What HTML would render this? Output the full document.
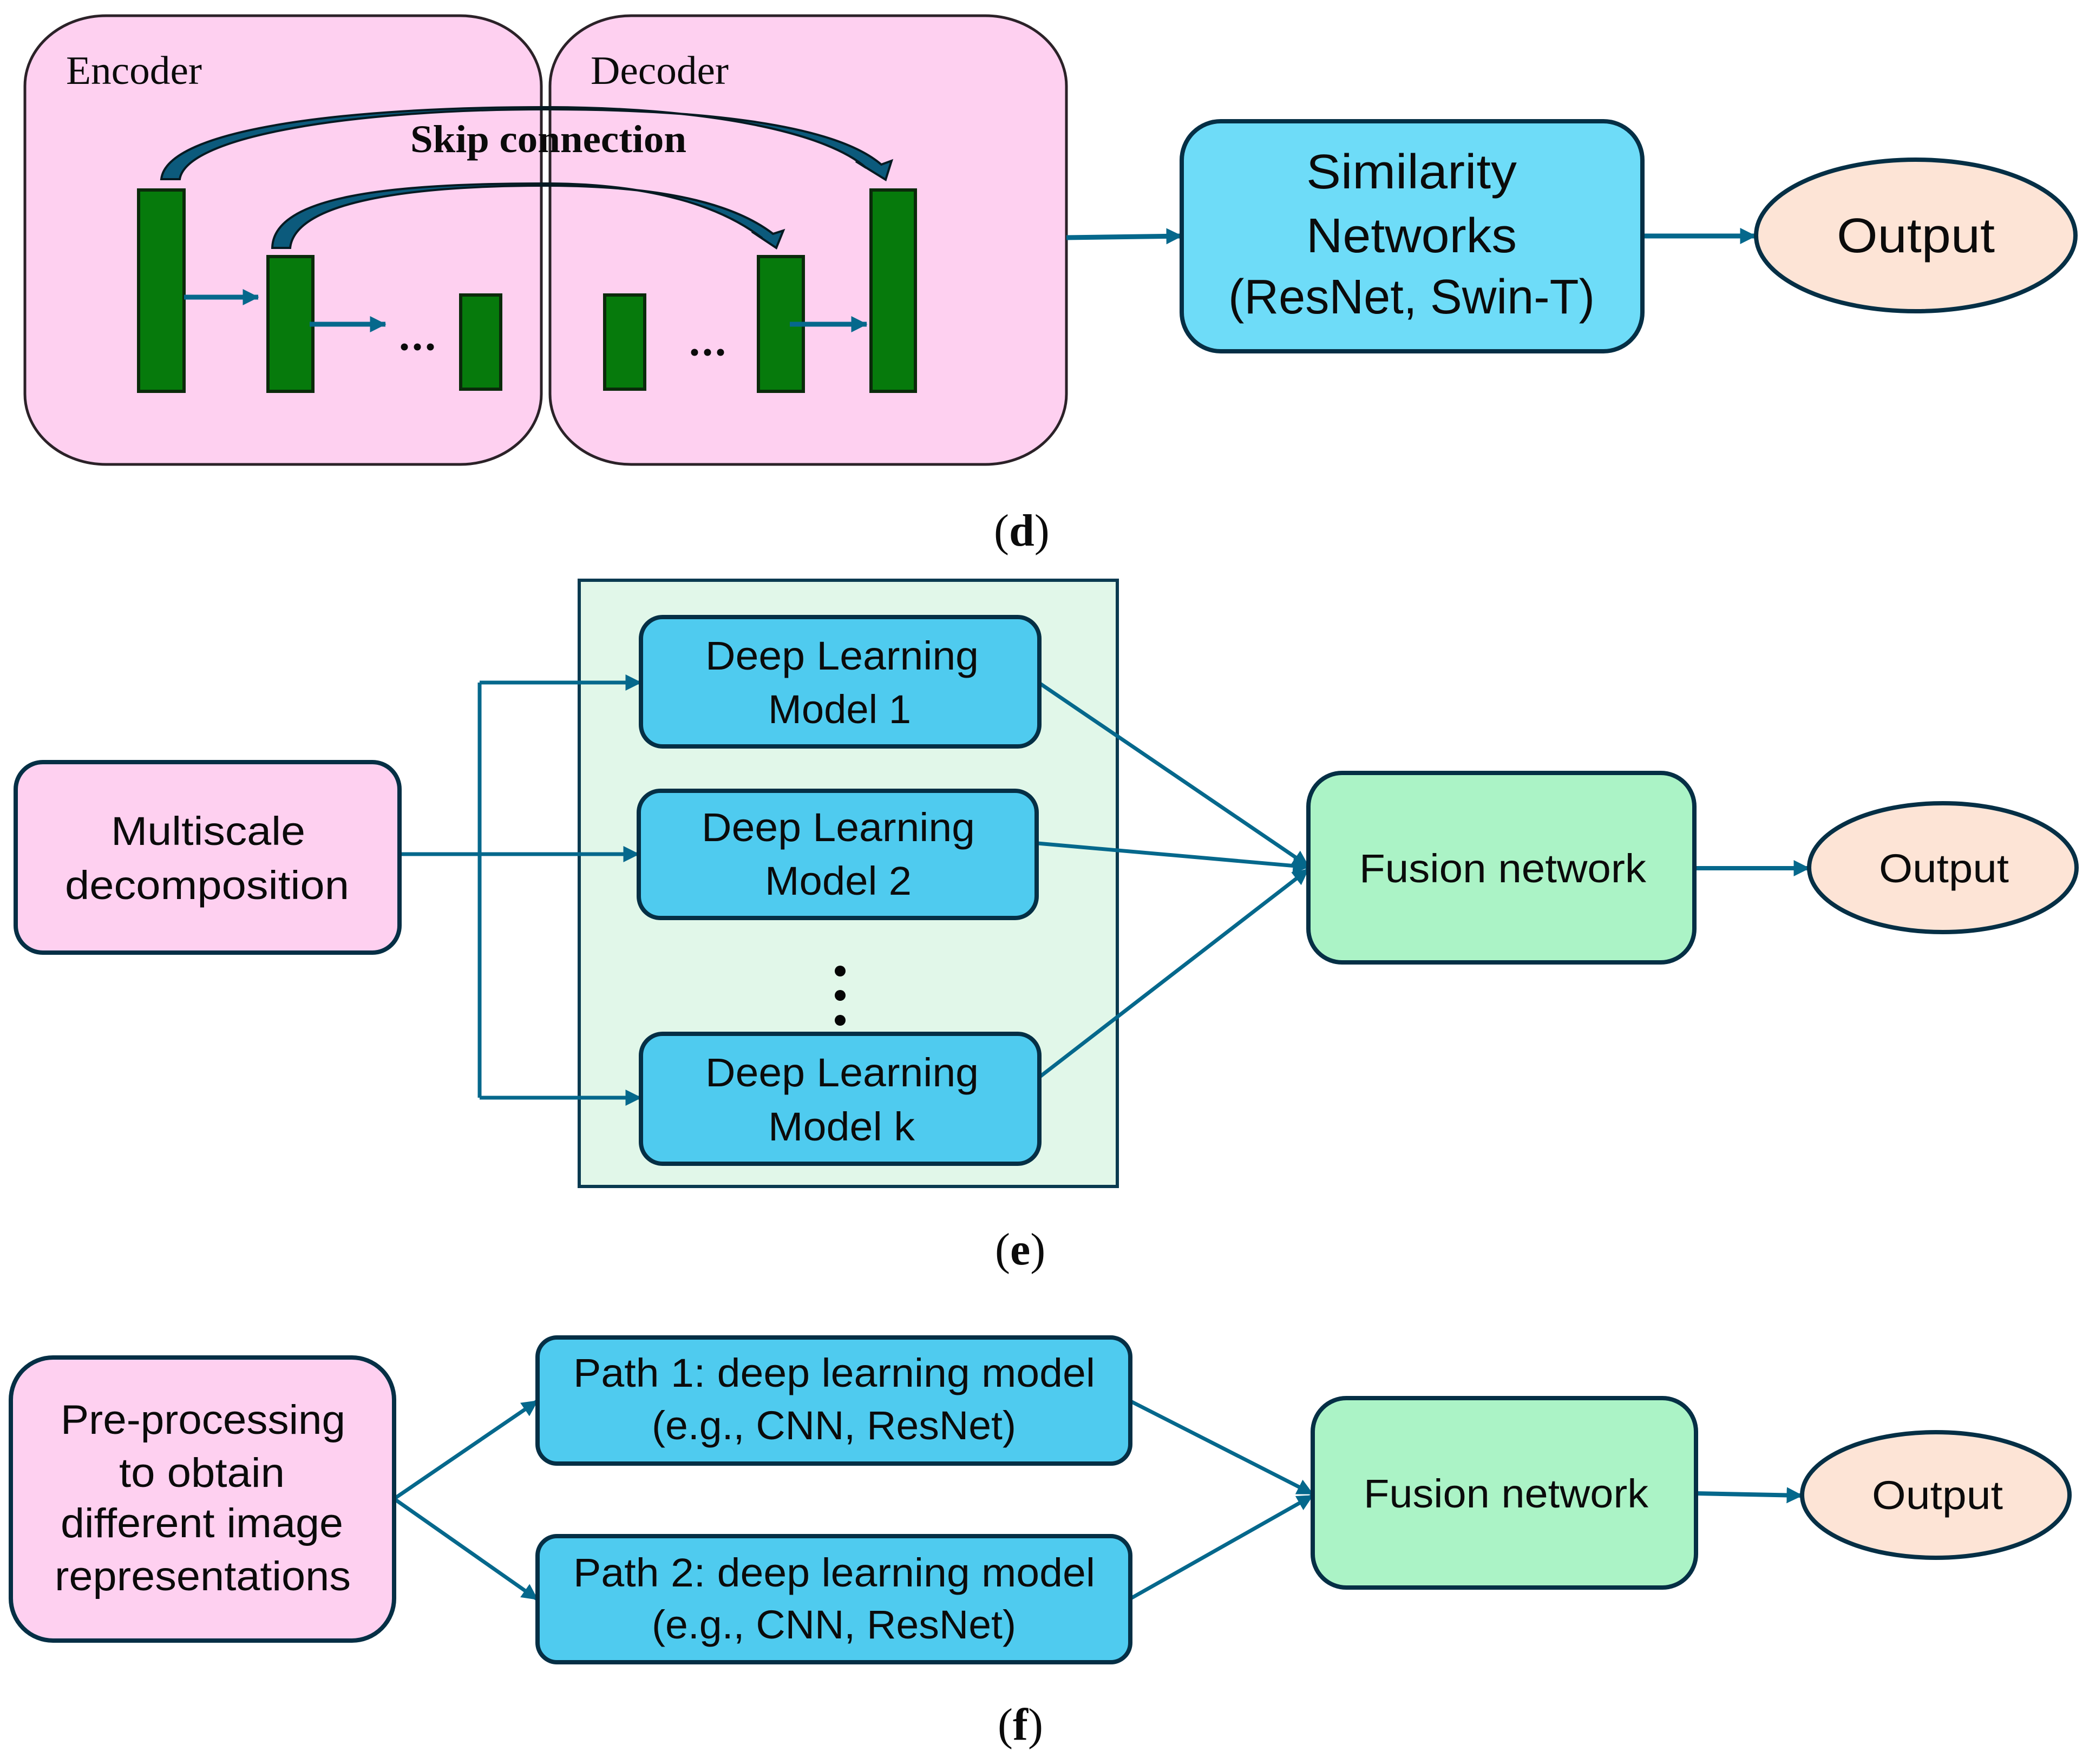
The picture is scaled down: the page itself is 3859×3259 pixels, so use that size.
<!DOCTYPE html>
<html lang="en">
<head>
<meta charset="utf-8">
<title>Diagram</title>
<style>
html,body{margin:0;padding:0;background:#fff;width:3859px;height:3259px;overflow:hidden}
svg{display:block}
text{fill:#0b0b0b}
.s{font-family:"Liberation Sans",sans-serif}
.r{font-family:"Liberation Serif",serif}
.ln{stroke:#05688c;fill:none}
.box{stroke:#052f45;stroke-width:8}
</style>
</head>
<body>
<svg width="3859" height="3259" viewBox="0 0 3859 3259" xmlns="http://www.w3.org/2000/svg">
<rect width="3859" height="3259" fill="#fff"/>
<defs>
<marker id="a" viewBox="0 0 10 10" refX="9.5" refY="5" markerUnits="userSpaceOnUse" markerWidth="30" markerHeight="30" orient="auto"><path d="M0 0L10 5L0 10z" fill="#05688c"/></marker>
</defs>

<!-- (d) -->
<rect x="46" y="29" width="954" height="829" rx="150" ry="130" fill="#fed0f0" stroke="#2b2228" stroke-width="5"/>
<rect x="1016" y="29" width="954" height="829" rx="150" ry="130" fill="#fed0f0" stroke="#2b2228" stroke-width="5"/>
<text class="r" x="122" y="155" font-size="74" textLength="251" lengthAdjust="spacingAndGlyphs">Encoder</text>
<text class="r" x="1091" y="155" font-size="74" textLength="255" lengthAdjust="spacingAndGlyphs">Decoder</text>

<g fill="#067a0c" stroke="#0b2a0b" stroke-width="6">
<rect x="256" y="351" width="84" height="372"/>
<rect x="495" y="474" width="83" height="249"/>
<rect x="851" y="545" width="74" height="174"/>
<rect x="1117" y="545" width="74" height="174"/>
<rect x="1401" y="474" width="83" height="249"/>
<rect x="1609" y="351" width="82" height="372"/>
</g>

<path d="M298 331C308 238 640 198 1006 198C1290 198 1520 240 1600 310L1581 298L1636 332L1647 297L1628 304C1540 228 1290 202 1006 202C660 202 345 250 332 331Z" fill="#0c5a7c" stroke="#061a22" stroke-width="4"/>
<path d="M503 458C505 362 720 339 1006 339C1180 339 1320 372 1408 440L1389 428L1434 458L1447 426L1428 432C1340 364 1180 343 1006 343C760 343 545 372 536 458Z" fill="#0c5a7c" stroke="#061a22" stroke-width="4"/>

<text class="r" x="758" y="281" font-size="72" font-weight="700" textLength="510" lengthAdjust="spacingAndGlyphs">Skip connection</text>

<g class="ln" stroke-width="9">
<line x1="340" y1="549" x2="477" y2="549" marker-end="url(#a)"/>
<line x1="572" y1="599" x2="712" y2="599" marker-end="url(#a)"/>
<line x1="1459" y1="599" x2="1601" y2="599" marker-end="url(#a)"/>
<line x1="1970" y1="439" x2="2183" y2="436" marker-end="url(#a)"/>
<line x1="3034" y1="436" x2="3243" y2="436" marker-end="url(#a)"/>
</g>
<g fill="#0b0b0b">
<circle cx="747" cy="641" r="6.5"/><circle cx="771" cy="641" r="6.5"/><circle cx="795" cy="641" r="6.5"/>
<circle cx="1283" cy="651" r="6.5"/><circle cx="1307" cy="651" r="6.5"/><circle cx="1331" cy="651" r="6.5"/>
</g>

<rect class="box" x="2183" y="224" width="851" height="425" rx="72" fill="#6edcf8"/>
<text class="s" x="2413" y="348" font-size="90" textLength="389" lengthAdjust="spacingAndGlyphs">Similarity</text>
<text class="s" x="2413" y="466" font-size="90" textLength="389" lengthAdjust="spacingAndGlyphs">Networks</text>
<text class="s" x="2269" y="579" font-size="90" textLength="677" lengthAdjust="spacingAndGlyphs">(ResNet, Swin-T)</text>

<ellipse class="box" cx="3539" cy="435" rx="295" ry="140" fill="#fde4d6"/>
<text class="s" x="3393" y="466" font-size="90" textLength="292" lengthAdjust="spacingAndGlyphs">Output</text>

<text class="r" x="1836" y="1008" font-size="84">(<tspan font-weight="700">d</tspan>)</text>

<!-- (e) -->
<rect x="1070" y="1072" width="994" height="1120" fill="#e1f7e9" stroke="#0a3a50" stroke-width="6"/>

<g class="ln" stroke-width="7">
<path d="M886 2028V1261"/>
<line x1="886" y1="1261" x2="1184" y2="1261" marker-end="url(#a)"/>
<line x1="738" y1="1578" x2="1180" y2="1578" marker-end="url(#a)"/>
<line x1="886" y1="2028" x2="1184" y2="2028" marker-end="url(#a)"/>
<line x1="1920" y1="1262" x2="2417" y2="1600" marker-end="url(#a)"/>
<line x1="1917" y1="1558" x2="2417" y2="1602" marker-end="url(#a)"/>
<line x1="1920" y1="1990" x2="2417" y2="1606" marker-end="url(#a)"/>
<line x1="3130" y1="1604" x2="3342" y2="1604" stroke-width="8" marker-end="url(#a)"/>
</g>

<rect class="box" x="29" y="1408" width="709" height="352" rx="50" fill="#fed0f0"/>
<text class="s" x="205" y="1561" font-size="74" textLength="359" lengthAdjust="spacingAndGlyphs">Multiscale</text>
<text class="s" x="120" y="1661" font-size="74" textLength="525" lengthAdjust="spacingAndGlyphs">decomposition</text>

<rect class="box" x="1184" y="1140" width="736" height="239" rx="40" fill="#4fcbef"/>
<text class="s" x="1303" y="1237" font-size="74" textLength="505" lengthAdjust="spacingAndGlyphs">Deep Learning</text>
<text class="s" x="1419" y="1336" font-size="74" textLength="264" lengthAdjust="spacingAndGlyphs">Model 1</text>

<rect class="box" x="1180" y="1461" width="735" height="235" rx="40" fill="#4fcbef"/>
<text class="s" x="1296" y="1554" font-size="74" textLength="505" lengthAdjust="spacingAndGlyphs">Deep Learning</text>
<text class="s" x="1413" y="1653" font-size="74" textLength="271" lengthAdjust="spacingAndGlyphs">Model 2</text>

<rect class="box" x="1184" y="1910" width="736" height="240" rx="40" fill="#4fcbef"/>
<text class="s" x="1303" y="2007" font-size="74" textLength="505" lengthAdjust="spacingAndGlyphs">Deep Learning</text>
<text class="s" x="1419" y="2107" font-size="74" textLength="271" lengthAdjust="spacingAndGlyphs">Model k</text>

<g fill="#050505">
<circle cx="1552" cy="1794" r="10"/><circle cx="1552" cy="1839" r="10"/><circle cx="1552" cy="1885" r="10"/>
</g>

<rect class="box" x="2417" y="1428" width="713" height="350" rx="62" fill="#abf3c6"/>
<text class="s" x="2511" y="1630" font-size="74" textLength="530" lengthAdjust="spacingAndGlyphs">Fusion network</text>
<ellipse class="box" cx="3589" cy="1603" rx="247" ry="119" fill="#fde4d6"/>
<text class="s" x="3471" y="1630" font-size="74" textLength="240" lengthAdjust="spacingAndGlyphs">Output</text>

<text class="r" x="1838" y="2336" font-size="84">(<tspan font-weight="700">e</tspan>)</text>

<!-- (f) -->
<g class="ln" stroke-width="7">
<line x1="728" y1="2769" x2="993" y2="2588" marker-end="url(#a)"/>
<line x1="728" y1="2769" x2="993" y2="2955" marker-end="url(#a)"/>
<line x1="2089" y1="2589" x2="2425" y2="2760" marker-end="url(#a)"/>
<line x1="2089" y1="2953" x2="2425" y2="2763" marker-end="url(#a)"/>
<line x1="3133" y1="2759" x2="3329" y2="2763" stroke-width="8" marker-end="url(#a)"/>
</g>

<rect class="box" x="20" y="2508" width="708" height="523" rx="78" fill="#fed0f0"/>
<text class="s" x="112" y="2649" font-size="76" textLength="526" lengthAdjust="spacingAndGlyphs">Pre-processing</text>
<text class="s" x="220" y="2747" font-size="76" textLength="306" lengthAdjust="spacingAndGlyphs">to obtain</text>
<text class="s" x="112" y="2840" font-size="76" textLength="522" lengthAdjust="spacingAndGlyphs">different image</text>
<text class="s" x="101" y="2938" font-size="76" textLength="547" lengthAdjust="spacingAndGlyphs">representations</text>

<rect class="box" x="993" y="2471" width="1095" height="233" rx="36" fill="#4fcbef"/>
<text class="s" x="1059" y="2562" font-size="74" textLength="964" lengthAdjust="spacingAndGlyphs">Path 1: deep learning model</text>
<text class="s" x="1204" y="2659" font-size="74" textLength="673" lengthAdjust="spacingAndGlyphs">(e.g., CNN, ResNet)</text>

<rect class="box" x="993" y="2838" width="1095" height="233" rx="36" fill="#4fcbef"/>
<text class="s" x="1059" y="2931" font-size="74" textLength="964" lengthAdjust="spacingAndGlyphs">Path 2: deep learning model</text>
<text class="s" x="1204" y="3027" font-size="74" textLength="673" lengthAdjust="spacingAndGlyphs">(e.g., CNN, ResNet)</text>

<rect class="box" x="2425" y="2583" width="708" height="350" rx="62" fill="#abf3c6"/>
<text class="s" x="2519" y="2785" font-size="74" textLength="526" lengthAdjust="spacingAndGlyphs">Fusion network</text>
<ellipse class="box" cx="3576" cy="2762" rx="247" ry="116" fill="#fde4d6"/>
<text class="s" x="3458" y="2788" font-size="74" textLength="242" lengthAdjust="spacingAndGlyphs">Output</text>

<text class="r" x="1843" y="3214" font-size="84">(<tspan font-weight="700">f</tspan>)</text>
</svg>
</body>
</html>
